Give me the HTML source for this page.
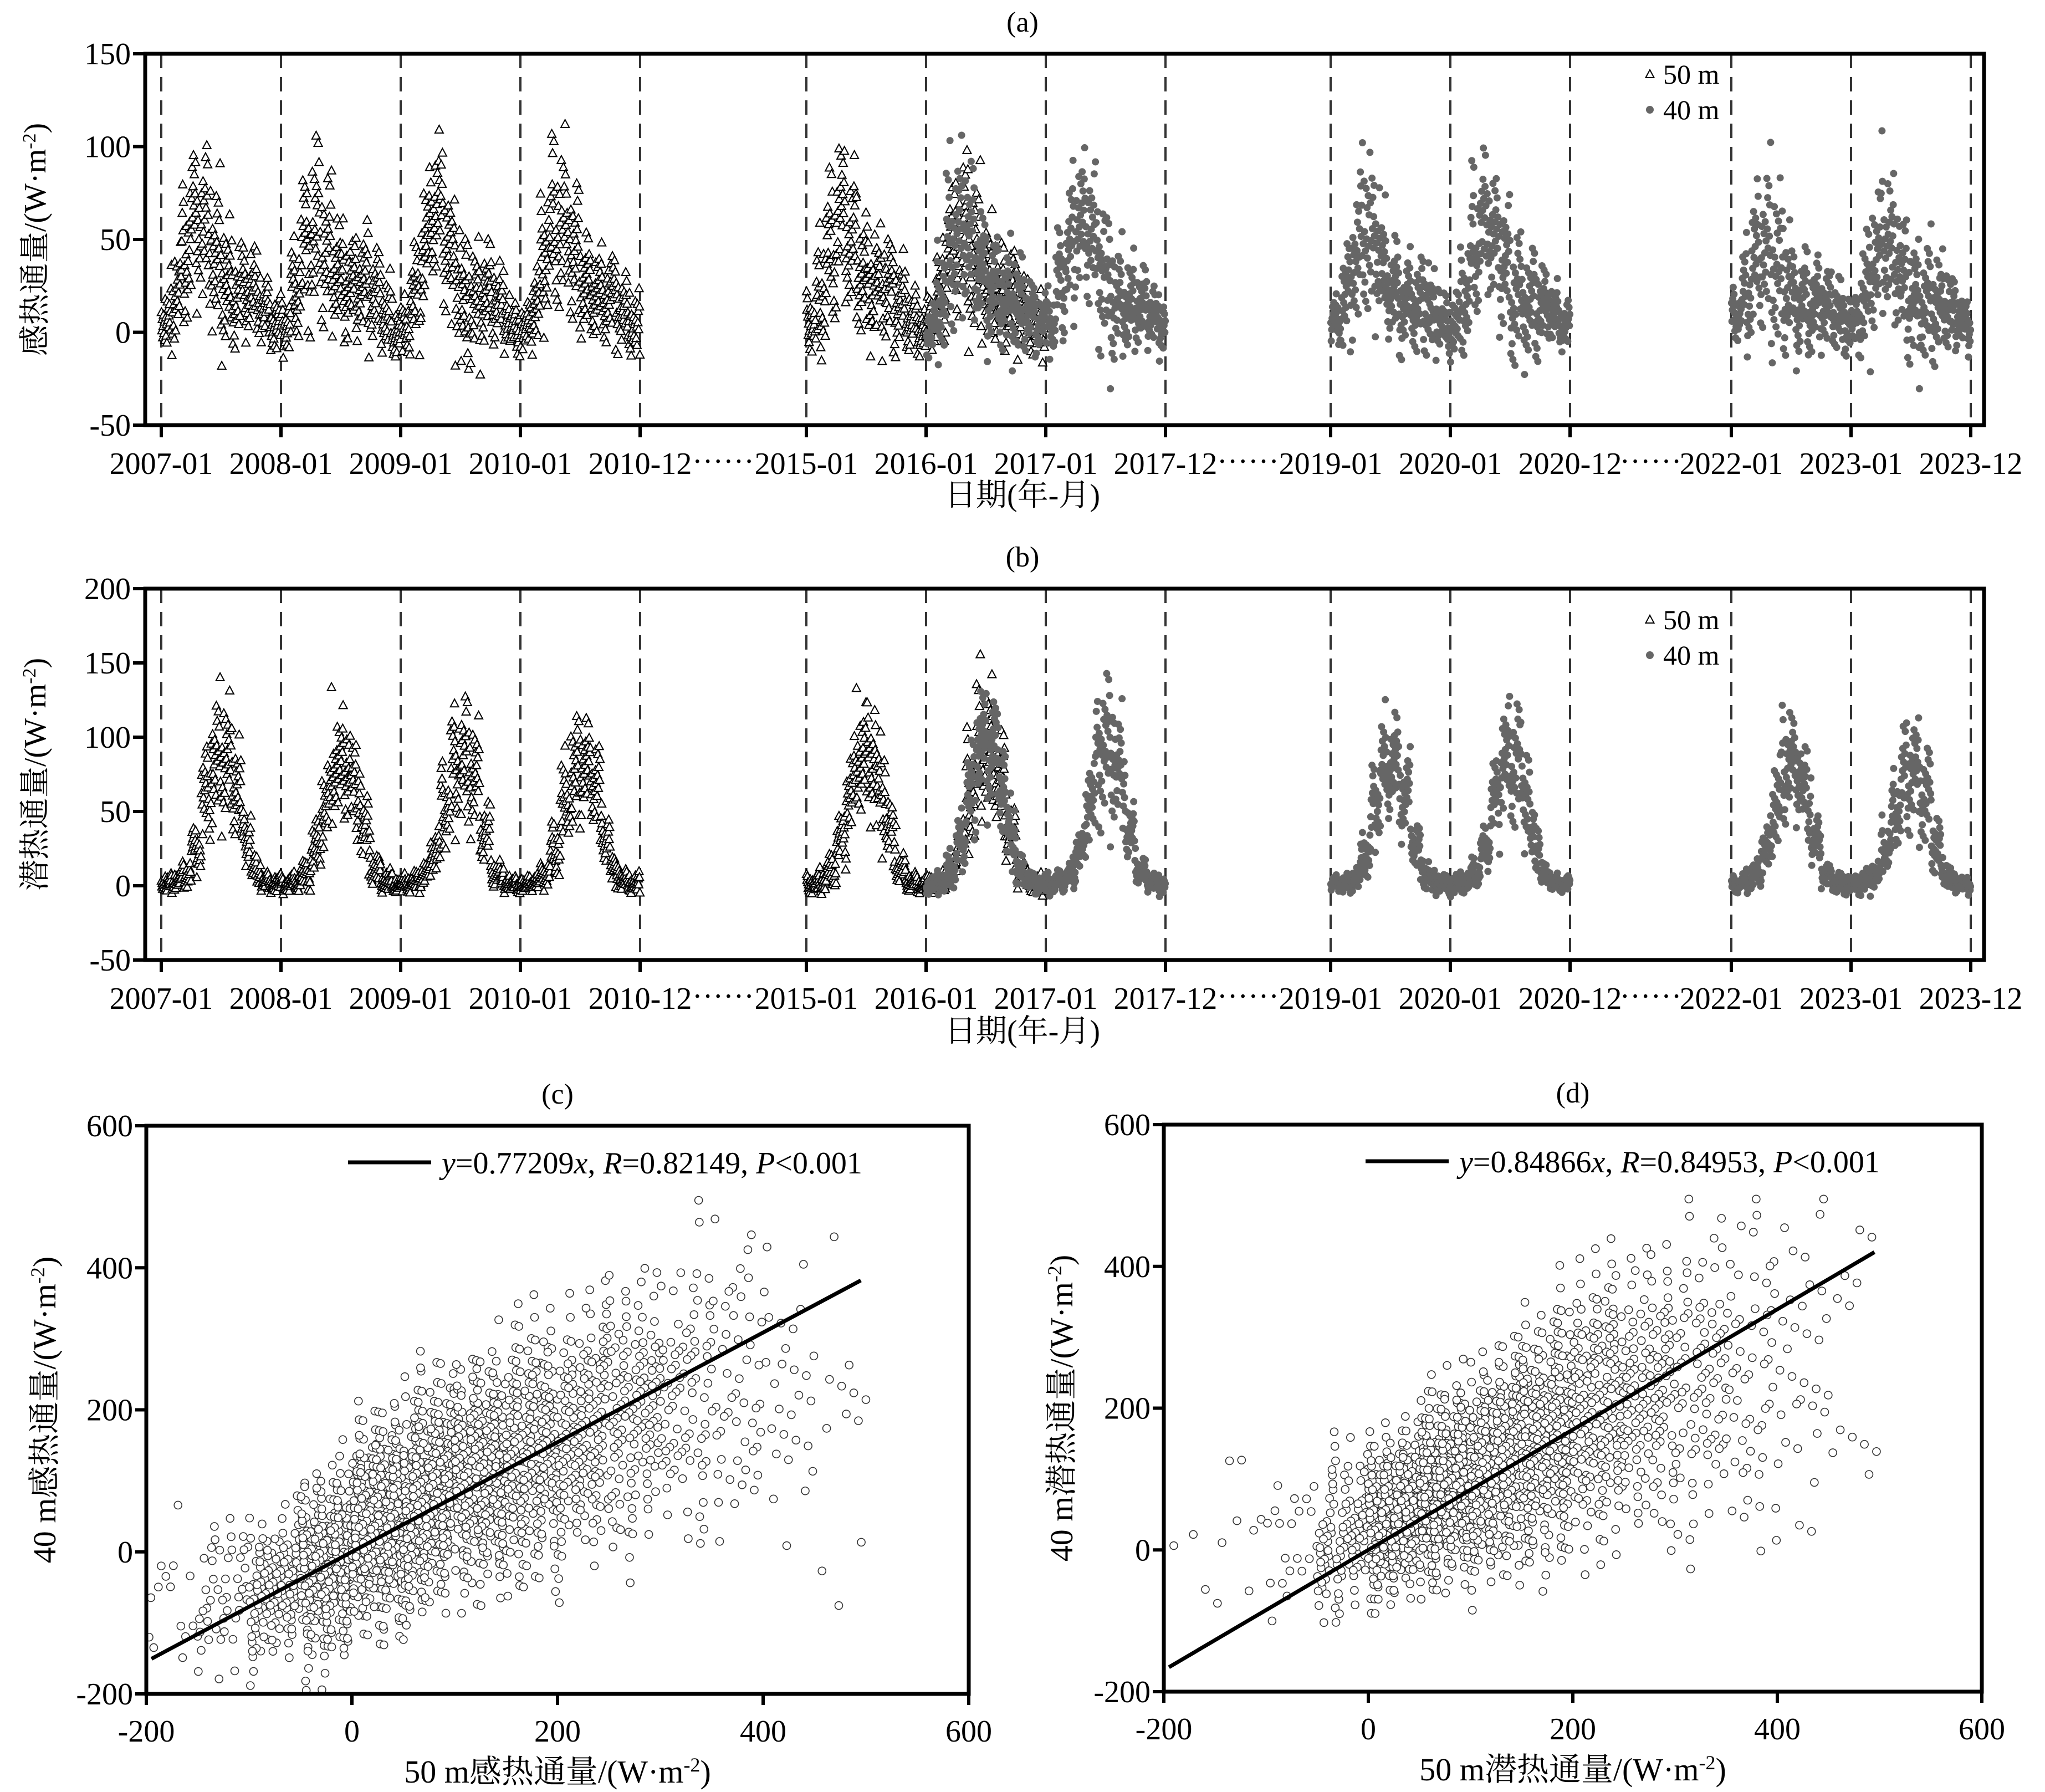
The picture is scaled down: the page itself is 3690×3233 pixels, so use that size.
<!DOCTYPE html>
<html><head><meta charset="utf-8">
<style>
html,body{margin:0;padding:0;background:#fff;}
svg{display:block;}
text{font-family:"Liberation Serif","Noto Serif CJK SC","Noto Sans CJK SC",serif;fill:#000;}
</style></head>
<body>
<svg id="fig" width="3690" height="3233" viewBox="0 0 3690 3233" xmlns="http://www.w3.org/2000/svg">
<rect x="0" y="0" width="3690" height="3233" fill="#fff"/>
<g id="pa"></g>
<g id="pb"></g>
<g id="pc"></g>
<g id="pd"></g>
</svg>
<script>
// ---------- data ----------
const years50 = [2007,2008,2009,2010,2015,2016];
const years40 = [2016,2017,2019,2020,2022,2023];
const H50 = [
 [5,20,45,60,55,40,25,20,25,20,12,3],
 [3,25,45,55,45,35,25,25,25,20,10,0],
 [2,20,45,70,55,30,15,15,20,20,10,2],
 [2,15,45,60,55,40,25,20,20,18,10,2],
 [5,20,45,60,50,35,25,25,20,15,8,2],
 [5,20,45,55,45,35,25,20,20,15,8,3]];
const H40 = [
 [3,20,45,55,50,35,25,20,15,15,10,5],
 [5,25,45,60,55,35,20,15,15,15,10,5],
 [5,20,40,55,45,30,20,15,15,15,10,5],
 [5,20,45,60,50,35,20,15,15,15,10,3],
 [10,20,40,45,35,25,15,15,15,15,10,5],
 [5,20,40,50,40,25,15,15,15,15,10,5]];
const Hspread = [8,15,20,22,22,20,18,15,15,13,10,8];
const LE50 = [
 [1,3,8,25,60,85,85,70,35,10,3,1],
 [1,3,8,25,55,80,80,65,35,10,3,1],
 [1,3,8,25,55,80,85,70,35,10,3,1],
 [1,3,8,25,55,75,80,70,35,10,3,1],
 [1,3,10,30,65,90,85,65,35,10,3,1],
 [1,3,10,30,65,90,90,70,35,10,3,1]];
const LE40 = [
 [1,3,10,30,65,95,95,75,35,10,3,1],
 [1,3,8,25,60,90,90,75,35,10,3,1],
 [1,2,6,20,55,80,80,60,30,8,2,1],
 [1,3,8,25,60,85,85,65,30,8,2,1],
 [1,3,8,25,55,80,80,60,30,8,2,1],
 [1,3,8,25,50,75,75,60,30,8,2,1]];
const yTicksA = [-50,0,50,100,150];
const yTicksB = [-50,0,50,100,150,200];
const dateTicks = ["2007-01","2008-01","2009-01","2010-01","2010-12","2015-01","2016-01","2017-01","2017-12","2019-01","2020-01","2020-12","2022-01","2023-01","2023-12"];
const tickYears = [2007,2008,2009,2010,2011,2015,2016,2017,2018,2019,2020,2021,2022,2023,2024];
// scatter (c)
const cX = [-175,-125,-75,-25,25,75,125,175,225,275,325,375,425,475];
const cN = [15,45,130,280,360,360,310,240,180,130,80,50,28,12];
const cMY = [-60,-60,-50,-20,40,80,110,140,170,200,220,230,220,200];
const cSD = [50,50,55,65,70,75,80,85,90,95,100,105,110,120];
const cSlope = 0.77209;
// scatter (d)
const dX = [-175,-125,-75,-25,25,75,125,175,225,275,325,375,425,475];
const dN = [3,8,20,100,290,350,320,260,190,130,85,55,32,12];
const dMY = [0,30,10,20,50,90,120,160,200,220,240,250,260,260];
const dSD = [40,50,60,55,55,65,75,85,95,100,110,120,120,130];
const dSlope = 0.84866;
const scTicks = [-200,0,200,400,600];

// ---------- helpers ----------
const NS="http://www.w3.org/2000/svg";
function el(parent,tag,attrs,txt){const e=document.createElementNS(NS,tag);for(const k in attrs)e.setAttribute(k,attrs[k]);if(txt!==undefined)e.textContent=txt;parent.appendChild(e);return e;}
function frac(x){return x-Math.floor(x);}
function qz(i){return (frac(i*0.7548776662+0.1)+frac(i*0.5698402910+0.3)+frac(i*0.41421356+0.7)-1.5)*2;}

const segs=[{a:2007,b:2011,x0:291},{a:2015,b:2018,x0:1455},{a:2019,b:2021,x0:2401},{a:2022,b:2024,x0:3124}];
const PPY=216;
function xT(t){for(const s of segs){if(t>=s.a&&t<=s.b+1e-9)return s.x0+(t-s.a)*PPY;}return null;}

const TF=56;
function timePanel(g,top,bot,vmin,vmax,ticks,ser50,ser40,spreadF,title,ylab,xlabY,legY){
  const L=262,R=3580;
  const y=v=>bot-(v-vmin)/(vmax-vmin)*(bot-top);
  const t=el(g,'text',{x:1845,y:top-40,'font-size':52,'text-anchor':'middle'},title);
  
  
  tickYears.forEach((yr)=>{const x=xT(yr);
    const l=el(g,'line',{x1:x,x2:x,y1:top,y2:bot,stroke:'#333','stroke-width':4,'stroke-dasharray':'26,16'});
    
    
  });
  const drawSeries=(years,data,kind)=>{
    let idx=kind=='tri'?1:5000;
    years.forEach((yr,yi)=>{
      for(let m=0;m<12;m++){
        const n=24;
        for(let k=0;k<n;k++){
          idx++;
          const tt=yr+(m+(k+0.5)/n)/12;
          const v=data[yi][m]+spreadF(m,data[yi][m])*qz(idx*1.37+yi*17);
          const vv=Math.max(vmin+3,Math.min(vmax-3,v));
          const px=xT(tt),py=y(vv);
          if(kind=='tri'){
            const p=el(g,'polygon',{points:`${px},${py-8} ${px-7.5},${py+6} ${px+7.5},${py+6}`,fill:'#fff',stroke:'#000','stroke-width':2});
            
            
          } else {
            const c=el(g,'circle',{cx:px,cy:py,r:6.5,fill:'#666'});
            
            
          }
        }
      }
    });
  };
  drawSeries(years50,ser50,'tri');
  drawSeries(years40,ser40,'dot');
  const b=el(g,'rect',{x:L,y:top,width:R-L,height:bot-top,fill:'none',stroke:'#000','stroke-width':7});
  
  
  ticks.forEach(v=>{
    const ln=el(g,'line',{x1:L-22,x2:L,y1:y(v),y2:y(v),stroke:'#000','stroke-width':6});
    
    
    const tx=el(g,'text',{x:L-26,y:y(v)+19,'font-size':TF,'text-anchor':'end'},String(v));
    
    
  });
  tickYears.forEach((yr,i)=>{
    const x=xT(yr);
    const ln=el(g,'line',{x1:x,x2:x,y1:bot,y2:bot+22,stroke:'#000','stroke-width':6});
    
    
    const tx=el(g,'text',{x:x,y:bot+88,'font-size':TF,'text-anchor':'middle'},dateTicks[i]);
    
    
  });
  [[2011,2015],[2018,2019],[2021,2022]].forEach(p=>{
    const x=(xT(p[0])+xT(p[1]))/2;
    const tx=el(g,'text',{x:x,y:bot+84,'font-size':TF,'text-anchor':'middle'},'······');
    
    
  });
  const xl=el(g,'text',{x:1845,y:xlabY,'font-size':56,'text-anchor':'middle'},'日期(年-月)');
  
  
  const cy=(top+bot)/2;
  const yl=el(g,'text',{x:0,y:0,'font-size':56,'text-anchor':'middle',transform:`translate(82,${cy}) rotate(-90)`});
  
  
  yl.innerHTML=ylab+'/(W·m<tspan baseline-shift="super" font-size="34">-2</tspan>)';
  const lg=el(g,'g',{});
  
  
  const lx=2977;
  el(lg,'polygon',{points:`${lx},${legY-8} ${lx-7.5},${legY+6} ${lx+7.5},${legY+6}`,fill:'#fff',stroke:'#000','stroke-width':2});
  el(lg,'text',{x:lx+24,y:legY+17,'font-size':50},'50 m');
  el(lg,'circle',{cx:lx,cy:legY+64,r:7,fill:'#666'});
  el(lg,'text',{x:lx+24,y:legY+81,'font-size':50},'40 m');
}

timePanel(document.getElementById('pa'),97,767,-50,150,yTicksA,H50,H40,(m,v)=>Hspread[m],'(a)','感热通量',912,134);
timePanel(document.getElementById('pb'),1062,1732,-50,200,yTicksB,LE50,LE40,(m,v)=>v*0.22+3,'(b)','潜热通量',1879,1118);

function scatterPanel(g,L,R,top,bot,bx,bn,bmy,bsd,slope,title,eq,xlab,ylab,ylx,seed){
  const x=v=>L+(v+200)/800*(R-L);
  const y=v=>bot-(v+200)/800*(bot-top);
  const t=el(g,'text',{x:(L+R)/2,y:top-40,'font-size':52,'text-anchor':'middle'},title);
  
  
  let idx=seed;
  bx.forEach((c,bi)=>{
    for(let k=0;k<bn[bi];k++){
      idx++;
      const xv=c-25+50*frac(idx*0.6180339887+0.11);
      let yv=bmy[bi]+(xv-c)*slope*0.8+bsd[bi]*qz(idx*1.13+3);
      yv=Math.max(-195,Math.min(495,yv));
      const p=el(g,'circle',{cx:x(xv),cy:y(yv),r:7,fill:'#fff',stroke:'#333','stroke-width':1.6});
      
      
    }
  });
  const x0=-195,x1=495;
  const fl=el(g,'line',{x1:x(x0),y1:y(slope*x0),x2:x(x1),y2:y(slope*x1),stroke:'#000','stroke-width':7});
  
  
  const b=el(g,'rect',{x:L,y:top,width:R-L,height:bot-top,fill:'none',stroke:'#000','stroke-width':7});
  
  
  scTicks.forEach(v=>{
    const a=el(g,'line',{x1:L-20,x2:L,y1:y(v),y2:y(v),stroke:'#000','stroke-width':6});
    
    
    const at=el(g,'text',{x:L-24,y:y(v)+19,'font-size':TF,'text-anchor':'end'},String(v));
    
    
    const c=el(g,'line',{x1:x(v),x2:x(v),y1:bot,y2:bot+20,stroke:'#000','stroke-width':6});
    
    
    const ct=el(g,'text',{x:x(v),y:bot+86,'font-size':TF,'text-anchor':'middle'},String(v));
    
    
  });
  const lg=el(g,'g',{});
  
  
  el(lg,'line',{x1:L+364,x2:L+514,y1:top+66,y2:top+66,stroke:'#000','stroke-width':7});
  const et=el(lg,'text',{x:L+533,y:top+86,'font-size':56});
  et.innerHTML=eq;
  const xl=el(g,'text',{x:(L+R)/2,y:bot+160,'font-size':58,'text-anchor':'middle'});
  
  
  xl.innerHTML=xlab+'/(W·m<tspan baseline-shift="super" font-size="36">-2</tspan>)';
  const yl=el(g,'text',{x:0,y:0,'font-size':58,'text-anchor':'middle',transform:`translate(${ylx},${(top+bot)/2}) rotate(-90)`});
  
  
  yl.innerHTML=ylab+'/(W·m<tspan baseline-shift="super" font-size="36">-2</tspan>)';
}
scatterPanel(document.getElementById('pc'),264,1748,2031,3056,cX,cN,cMY,cSD,cSlope,'(c)',
 '<tspan font-style="italic">y</tspan>=0.77209<tspan font-style="italic">x</tspan>, <tspan font-style="italic">R</tspan>=0.82149, <tspan font-style="italic">P</tspan>&lt;0.001',
 '50 m感热通量','40 m感热通量',100,7);
scatterPanel(document.getElementById('pd'),2100,3576,2029,3052,dX,dN,dMY,dSD,dSlope,'(d)',
 '<tspan font-style="italic">y</tspan>=0.84866<tspan font-style="italic">x</tspan>, <tspan font-style="italic">R</tspan>=0.84953, <tspan font-style="italic">P</tspan>&lt;0.001',
 '50 m潜热通量','40 m潜热通量',1935,901);
</script>
</body></html>
